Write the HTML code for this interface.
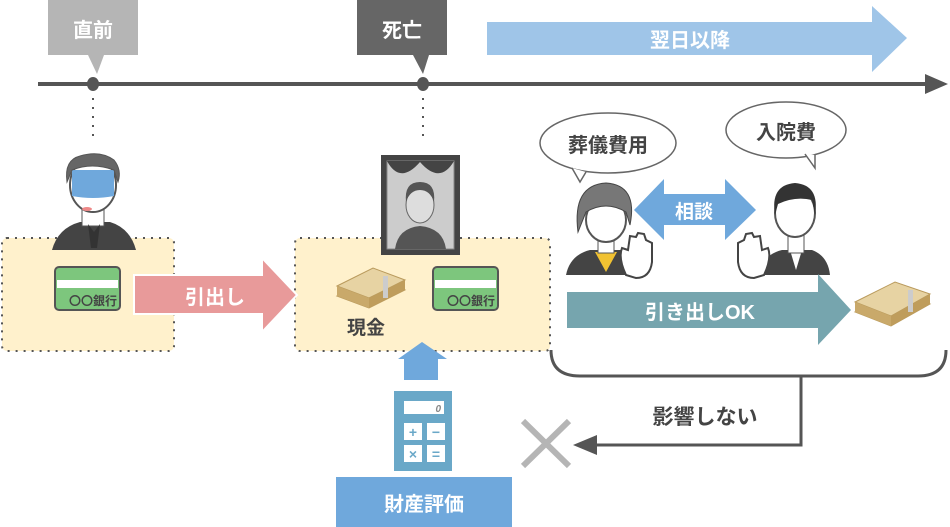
<!DOCTYPE html>
<html><head><meta charset="utf-8"><style>
html,body{margin:0;padding:0;background:#fff;}
svg{display:block;}
text{font-family:"Liberation Sans","Noto Sans CJK JP",sans-serif;font-weight:bold;}
</style></head><body>
<svg width="950" height="527" viewBox="0 0 950 527" xmlns="http://www.w3.org/2000/svg">
<rect x="48" y="0" width="90" height="55" fill="#b5b5b5"/>
<polygon points="88,55 104,55 97,74" fill="#b5b5b5"/>
<text x="93" y="37" font-size="20" fill="#fff" text-anchor="middle">直前</text>
<rect x="357" y="0" width="90" height="55" fill="#666"/>
<polygon points="413,55 429,55 423,74" fill="#666"/>
<text x="402" y="37" font-size="20" fill="#fff" text-anchor="middle">死亡</text>
<polygon points="487,22 872,22 872,6 907,38 872,72 872,55 487,55" fill="#9fc5e8"/>
<text x="690" y="47" font-size="20" fill="#fff" text-anchor="middle">翌日以降</text>
<line x1="38" y1="84" x2="928" y2="84" stroke="#555" stroke-width="4"/>
<polygon points="925,74 948,84 925,94" fill="#555"/>
<ellipse cx="93" cy="84" rx="6" ry="7" fill="#555"/>
<ellipse cx="423" cy="84" rx="6" ry="7" fill="#555"/>
<line x1="93" y1="98" x2="93" y2="138" stroke="#555" stroke-width="2" stroke-dasharray="2,7"/>
<line x1="423" y1="98" x2="423" y2="138" stroke="#555" stroke-width="2" stroke-dasharray="2,7"/>
<rect x="2" y="238" width="172" height="113" rx="5" fill="#fff1cc" stroke="#555" stroke-width="2" stroke-dasharray="2,6"/>
<rect x="295" y="238" width="255" height="113" rx="5" fill="#fff1cc" stroke="#555" stroke-width="2" stroke-dasharray="2,6"/>
<path d="M52,250 Q58,228 80,222 L110,222 Q130,228 136,250 Z" fill="#444"/>
<rect x="82" y="200" width="22" height="26" fill="#fff" stroke="#555"/>
<polygon points="88,224 94,232 100,224 97,248 91,248" fill="#333"/>
<ellipse cx="93" cy="185" rx="23" ry="27" fill="#fff" stroke="#555" stroke-width="2"/>
<path d="M72,170 L114,170 L114,196 Q93,200 72,196 Z" fill="#6fa8dc"/>
<path d="M67,182 Q64,160 80,156 Q100,150 114,160 Q122,170 118,182 L114,170 Q92,162 72,170 Z" fill="#666" stroke="#555"/>
<ellipse cx="87" cy="209" rx="5" ry="2" fill="#e88"/>
<g>
<rect x="55" y="267" width="65" height="43" rx="4" fill="#7dc67d" stroke="#555" stroke-width="2"/>
<rect x="57" y="280" width="61" height="8" fill="#fff"/>
<text x="117" y="305" font-size="12" fill="#444" text-anchor="end">〇〇銀行</text>
</g>
<g>
<rect x="433" y="267" width="65" height="43" rx="4" fill="#7dc67d" stroke="#555" stroke-width="2"/>
<rect x="435" y="280" width="61" height="8" fill="#fff"/>
<text x="495" y="305" font-size="12" fill="#444" text-anchor="end">〇〇銀行</text>
</g>
<polygon points="134,275 262,275 262,258 297,295 262,332 262,314 134,314" fill="#e89a9a" stroke="#fff" stroke-width="2"/>
<text x="215" y="304" font-size="20" fill="#fff" text-anchor="middle">引出し</text>
<g transform="translate(337,262)">
<polygon points="0,34 36,16 68,28 32,46" fill="#d8bd85" stroke="#b99a5c"/>
<polygon points="0,24 36,6 68,18 32,36" fill="#e7d3a3" stroke="#b99a5c"/>
<polygon points="0,24 32,36 32,46 0,34" fill="#c9a96a"/>
<polygon points="32,36 68,18 68,28 32,46" fill="#bf9d5c"/>
<rect x="46" y="14" width="5" height="22" fill="#ccc"/>
</g>
<text x="366" y="334" font-size="19" fill="#444" text-anchor="middle">現金</text>
<rect x="381" y="155" width="79" height="100" fill="#444"/>
<rect x="387" y="161" width="67" height="88" fill="#ccc" stroke="#888"/>
<path d="M387,161 Q400,185 420,162 Q440,185 454,161" fill="#444"/>
<path d="M395,249 Q398,228 420,226 Q443,228 446,249 Z" fill="#555"/>
<ellipse cx="420" cy="205" rx="14" ry="18" fill="#ddd" stroke="#666"/>
<path d="M406,202 Q404,182 420,182 Q436,182 434,202 Q430,190 420,190 Q410,190 406,202Z" fill="#555"/>
<polygon points="404,380 404,359 398,359 422,342 447,359 438,359 438,380" fill="#6fa8dc"/>
<rect x="394" y="391" width="58" height="80" fill="#6aa8c8"/>
<rect x="404" y="401" width="40" height="13" fill="#fff"/>
<text x="441" y="412" font-size="10" fill="#888" text-anchor="end" font-style="italic">0</text>
<rect x="404" y="423" width="18" height="17" fill="#fff"/><rect x="427" y="423" width="18" height="17" fill="#fff"/>
<rect x="404" y="445" width="18" height="17" fill="#fff"/><rect x="427" y="445" width="18" height="17" fill="#fff"/>
<text x="413" y="437" font-size="14" fill="#6aa8c8" text-anchor="middle">+</text>
<text x="436" y="437" font-size="14" fill="#6aa8c8" text-anchor="middle">−</text>
<text x="413" y="459" font-size="14" fill="#6aa8c8" text-anchor="middle">×</text>
<text x="436" y="459" font-size="14" fill="#6aa8c8" text-anchor="middle">=</text>
<rect x="336" y="477" width="176" height="50" fill="#6fa8dc"/>
<text x="424" y="511" font-size="20" fill="#fff" text-anchor="middle">財産評価</text>
<path d="M551,350 Q551,376 580,376 L918,376 Q946,376 946,350" fill="none" stroke="#555" stroke-width="3"/>
<path d="M801,376 L801,445 L595,445" fill="none" stroke="#555" stroke-width="3"/>
<polygon points="573,445 597,435 597,455" fill="#555"/>
<text x="705" y="424" font-size="21" fill="#444" text-anchor="middle">影響しない</text>
<line x1="523" y1="421" x2="569" y2="466" stroke="#b5b5b5" stroke-width="6"/>
<line x1="569" y1="421" x2="523" y2="466" stroke="#b5b5b5" stroke-width="6"/>
<ellipse cx="608" cy="143" rx="68" ry="30" fill="#fff" stroke="#666" stroke-width="1.5"/>
<path d="M572,168 L580,182 L586,172" fill="#fff" stroke="#666" stroke-width="1.5"/>
<text x="608" y="152" font-size="20" fill="#444" text-anchor="middle">葬儀費用</text>
<ellipse cx="786" cy="130" rx="60" ry="28" fill="#fff" stroke="#666" stroke-width="1.5"/>
<path d="M805,154 L815,168 L815,155" fill="#fff" stroke="#666" stroke-width="1.5"/>
<text x="786" y="139" font-size="20" fill="#444" text-anchor="middle">入院費</text>
<polygon points="634,210 664,179 664,194 725,194 725,179 756,210 725,240 725,225 664,225 664,240" fill="#6fa8dc"/>
<text x="694" y="218" font-size="19" fill="#fff" text-anchor="middle">相談</text>
<path d="M566,275 Q570,255 590,250 L622,250 Q640,256 642,275 Z" fill="#444"/>
<polygon points="595,252 606,272 617,252" fill="#f1c232"/>
<rect x="598" y="235" width="16" height="18" fill="#fff" stroke="#555"/>
<ellipse cx="606" cy="220" rx="20" ry="22" fill="#fff" stroke="#555" stroke-width="2"/>
<path d="M578,232 Q572,185 606,183 Q638,185 630,225 L626,212 Q606,200 586,212 Z" fill="#777" stroke="#444"/>
<path d="M626,275 Q618,258 622,248 L628,250 L630,236 L636,237 L638,233 L644,234 L646,240 L652,243 L652,262 Q650,278 636,278 Z" fill="#fff" stroke="#444" stroke-width="2"/>
<path d="M758,275 Q762,255 782,250 L812,250 Q828,256 830,275 Z" fill="#444"/>
<polygon points="790,250 796,270 802,250" fill="#fff"/>
<rect x="788" y="235" width="16" height="18" fill="#fff" stroke="#555"/>
<ellipse cx="795" cy="213" rx="20" ry="24" fill="#fff" stroke="#555" stroke-width="2"/>
<path d="M775,215 Q770,185 795,183 Q820,185 815,215 L812,200 Q795,196 778,204 Z" fill="#333"/>
<path d="M764,275 Q772,258 768,248 L762,250 L760,236 L754,237 L752,233 L746,234 L744,240 L738,243 L738,262 Q740,278 754,278 Z" fill="#fff" stroke="#444" stroke-width="2"/>
<polygon points="567,292 818,292 818,274 851,310 818,345 818,328 567,328" fill="#76a5ae"/>
<text x="700" y="319" font-size="20" fill="#fff" text-anchor="middle">引き出しOK</text>
<g transform="translate(855,276)">
<polygon points="0,36 40,16 75,28 36,50" fill="#d8bd85" stroke="#b99a5c"/>
<polygon points="0,26 40,6 75,18 36,40" fill="#e7d3a3" stroke="#b99a5c"/>
<polygon points="0,26 36,40 36,50 0,36" fill="#c9a96a"/>
<polygon points="36,40 75,18 75,28 36,50" fill="#bf9d5c"/>
<rect x="53" y="14" width="5" height="22" fill="#ccc"/>
</g>
</svg>
</body></html>
